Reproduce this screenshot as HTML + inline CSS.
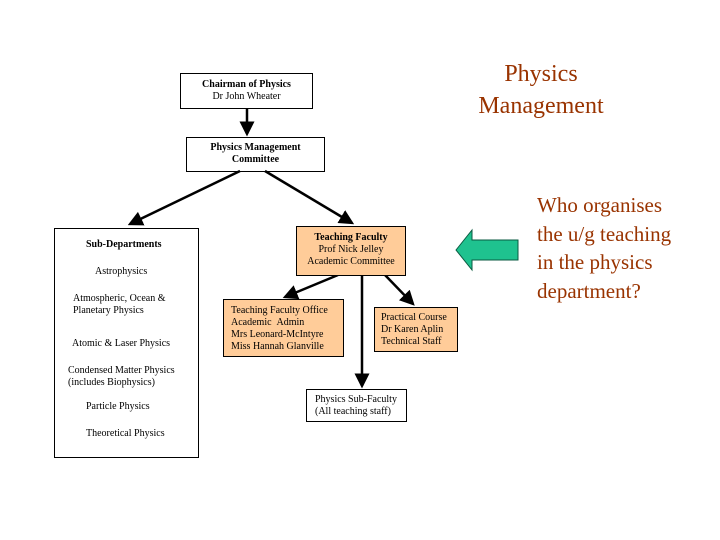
<!DOCTYPE html>
<html><head><style>
body{margin:0;width:720px;height:540px;background:#fff;position:relative;overflow:hidden;font-family:"Liberation Serif",serif;}
.b{position:absolute;border:1px solid #000;box-sizing:border-box;font-size:10px;line-height:12px;color:#000;}
.c{text-align:center;}
.o{background:#FFCC99;}
.t{position:absolute;color:#993300;font-family:"Liberation Serif",serif;}
.s{position:absolute;font-size:10px;line-height:12px;}
</style></head><body>
<svg width="720" height="540" style="position:absolute;left:0;top:0">
<defs><marker id="a" markerWidth="6" markerHeight="6" refX="5" refY="3" orient="auto" markerUnits="strokeWidth"><path d="M0,0 L6,3 L0,6 z" fill="#000"/></marker></defs>
<g stroke="#000" stroke-width="2.5" fill="none">
<line x1="247" y1="108" x2="247" y2="134" marker-end="url(#a)"/>
<line x1="240" y1="171" x2="130" y2="224" marker-end="url(#a)"/>
<line x1="265" y1="171" x2="352" y2="223" marker-end="url(#a)"/>
<line x1="338" y1="275" x2="285" y2="297" marker-end="url(#a)"/>
<line x1="385" y1="275" x2="413" y2="304" marker-end="url(#a)"/>
<line x1="362" y1="275" x2="362" y2="386" marker-end="url(#a)"/>
</g>
<path d="M456,250 L472,230 L472,240 L518,240 L518,260 L472,260 L472,270 Z" fill="#1FC28F" stroke="#0a5a40" stroke-width="1"/>
</svg>
<div class="b c" style="left:180px;top:73px;width:133px;height:36px;padding-top:5px"><b>Chairman of Physics</b><br>Dr John Wheater</div>
<div class="b c" style="left:186px;top:137px;width:139px;height:35px;padding-top:4px"><b>Physics Management<br>Committee</b></div>
<div class="b c o" style="left:296px;top:226px;width:110px;height:50px;padding-top:5px"><b>Teaching Faculty</b><br>Prof Nick Jelley<br>Academic Committee</div>
<div class="b o" style="left:223px;top:299px;width:121px;height:58px;padding:5px 0 0 7px">Teaching Faculty Office<br>Academic &nbsp;Admin<br>Mrs Leonard-McIntyre<br>Miss Hannah Glanville</div>
<div class="b o" style="left:374px;top:307px;width:84px;height:45px;padding:4px 0 0 6px">Practical Course<br>Dr Karen Aplin<br>Technical Staff</div>
<div class="b" style="left:306px;top:389px;width:101px;height:33px;padding:4px 0 0 8px">Physics Sub-Faculty<br>(All teaching staff)</div>
<div class="b" style="left:54px;top:228px;width:145px;height:230px"></div>
<div class="s" style="left:86px;top:239px"><b>Sub-Departments</b></div>
<div class="s" style="left:95px;top:266px">Astrophysics</div>
<div class="s" style="left:73px;top:293px">Atmospheric, Ocean &amp;<br>Planetary Physics</div>
<div class="s" style="left:72px;top:338px">Atomic &amp; Laser Physics</div>
<div class="s" style="left:68px;top:365px">Condensed Matter Physics<br>(includes Biophysics)</div>
<div class="s" style="left:86px;top:401px">Particle Physics</div>
<div class="s" style="left:86px;top:428px">Theoretical Physics</div>
<div class="t" style="left:460px;top:58px;width:162px;text-align:center;font-size:24px;line-height:32px">Physics<br>Management</div>
<div class="t" style="left:537px;top:191px;font-size:21px;line-height:28.7px">Who organises<br>the u/g teaching<br>in the physics<br>department?</div>
</body></html>
